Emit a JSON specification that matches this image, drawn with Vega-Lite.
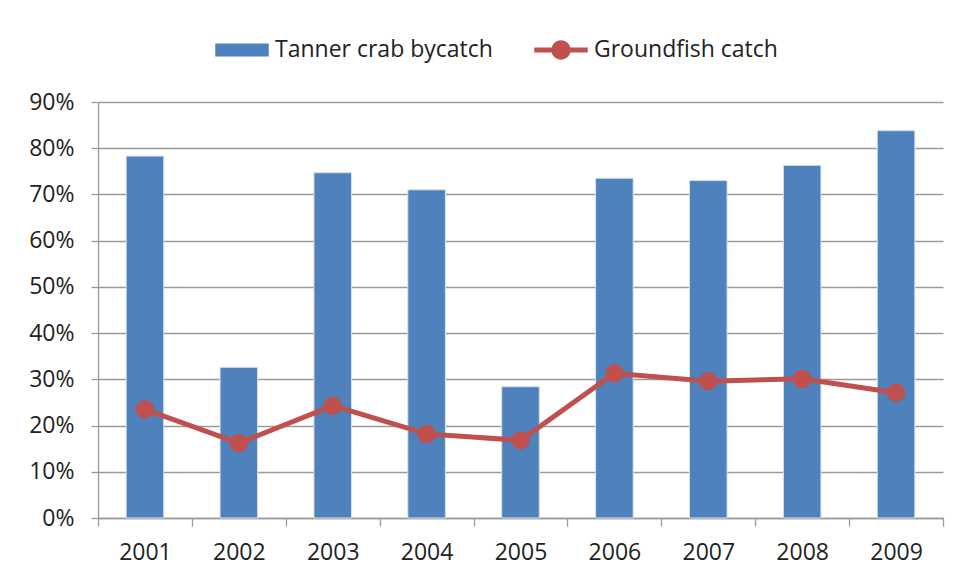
{
  "$schema": "https://vega.github.io/schema/vega-lite/v6.json",
  "width": 845,
  "height": 416,
  "autosize": {"type": "none"},
  "padding": {"left": 98, "top": 102, "right": 15, "bottom": 61},
  "background": "white",
  "config": {
    "font": "Open Sans",
    "view": {"stroke": null},
    "axis": {"labelFont": "Open Sans", "labelFontSize": 23, "labelColor": "#222222", "domainColor": "#9a9a9a", "tickColor": "#9a9a9a", "gridColor": "#9a9a9a", "domainWidth": 1.3, "tickWidth": 1.3, "gridWidth": 1.3}
  },
  "data": {
    "values": [
      {"year": "2001", "series": "Tanner crab bycatch", "value": 0.783},
      {"year": "2002", "series": "Tanner crab bycatch", "value": 0.326},
      {"year": "2003", "series": "Tanner crab bycatch", "value": 0.747},
      {"year": "2004", "series": "Tanner crab bycatch", "value": 0.710},
      {"year": "2005", "series": "Tanner crab bycatch", "value": 0.284},
      {"year": "2006", "series": "Tanner crab bycatch", "value": 0.735},
      {"year": "2007", "series": "Tanner crab bycatch", "value": 0.730},
      {"year": "2008", "series": "Tanner crab bycatch", "value": 0.763},
      {"year": "2009", "series": "Tanner crab bycatch", "value": 0.838},
      {"year": "2001", "series": "Groundfish catch", "value": 0.235},
      {"year": "2002", "series": "Groundfish catch", "value": 0.162},
      {"year": "2003", "series": "Groundfish catch", "value": 0.243},
      {"year": "2004", "series": "Groundfish catch", "value": 0.182},
      {"year": "2005", "series": "Groundfish catch", "value": 0.168},
      {"year": "2006", "series": "Groundfish catch", "value": 0.313},
      {"year": "2007", "series": "Groundfish catch", "value": 0.296},
      {"year": "2008", "series": "Groundfish catch", "value": 0.301},
      {"year": "2009", "series": "Groundfish catch", "value": 0.271}
    ]
  },
  "encoding": {
    "x": {
      "field": "year", "type": "ordinal",
      "scale": {"paddingInner": 0, "paddingOuter": 0},
      "axis": {"title": null, "labelAngle": 0, "tickBand": "extent", "tickSize": 8, "labelPadding": 15, "grid": false}
    },
    "y": {
      "field": "value", "type": "quantitative",
      "scale": {"domain": [0, 0.9], "nice": false},
      "axis": {"title": null, "format": ".0%", "values": [0, 0.1, 0.2, 0.3, 0.4, 0.5, 0.6, 0.7, 0.8, 0.9], "tickSize": 7, "labelPadding": 17, "grid": true}
    },
    "color": {
      "field": "series", "type": "nominal",
      "scale": {"domain": ["Tanner crab bycatch", "Groundfish catch"], "range": ["#4f81bd", "#c0504d"]},
      "legend": {
        "title": null,
        "orient": "none",
        "direction": "horizontal",
        "legendX": 117,
        "legendY": -79,
        "padding": 0,
        "labelFont": "Open Sans",
        "labelFontSize": 23,
        "labelColor": "#222222",
        "labelLimit": 0,
        "labelOffset": 6,
        "columnPadding": 41,
        "symbolSize": 2862,
        "symbolStrokeWidth": 0,
        "encode": {
          "symbols": {
            "update": {
              "shape": {"signal": "datum.value === 'Tanner crab bycatch' ? 'M-1,-0.24H1V0.24H-1Z' : 'M-1,-0.09H1V0.09H-1Z M0.36,0A0.36,0.36,0,1,1,-0.36,0A0.36,0.36,0,1,1,0.36,0Z'"},
              "fill": {"signal": "datum.value === 'Tanner crab bycatch' ? '#4f81bd' : '#c0504d'"},
              "stroke": {"value": "transparent"},
              "strokeWidth": {"value": 0},
              "size": {"value": 2862},
              "opacity": {"value": 1}
            }
          }
        }
      }
    }
  },
  "layer": [
    {
      "transform": [{"filter": "datum.series === 'Tanner crab bycatch'"}],
      "mark": {"type": "bar", "width": {"band": 0.4}, "stroke": "#d6e0ee", "strokeWidth": 1}
    },
    {
      "transform": [{"filter": "datum.series === 'Groundfish catch'"}],
      "mark": {"type": "line", "strokeWidth": 5}
    },
    {
      "transform": [{"filter": "datum.series === 'Groundfish catch'"}],
      "mark": {"type": "point", "filled": true, "size": 340, "opacity": 1}
    }
  ]
}
